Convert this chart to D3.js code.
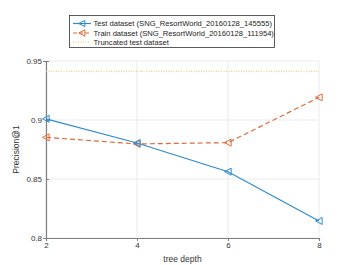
<!DOCTYPE html>
<html><head><meta charset="utf-8">
<script src="https://cdn.jsdelivr.net/npm/d3@7"></script>
<style>body{margin:0;background:#fff}svg{display:block}text{font-family:"Liberation Sans",Arial,sans-serif}</style>
</head><body><svg id="c" width="353" height="265"></svg>
<script>
const depths = [2, 4, 6, 8];
const testValues = [0.901, 0.8805, 0.8562, 0.8144];
const trainValues = [0.8853, 0.8797, 0.8808, 0.9192];
const truncatedValue = 0.9413;
const xTicks = [2, 4, 6, 8];
const yTicks = [0.8, 0.85, 0.9, 0.95];
const seriesNames = ["Test dataset (SNG_ResortWorld_20160128_145555)", "Train dataset (SNG_ResortWorld_20160128_111954)", "Truncated test dataset"];

const svg = d3.select("#c");
const x = d3.scaleLinear().domain([2, 8]).range([46, 319]);
const y = d3.scaleLinear().domain([0.8, 0.95]).range([238, 61]);
const blue = "#2f8ad0", orange = "#e06a3a", yellow = "#e8c060";

// grid
svg.append("g").selectAll("line").data(xTicks).join("line")
  .attr("x1", d => x(d)).attr("x2", d => x(d)).attr("y1", y(0.8)).attr("y2", y(0.95))
  .attr("stroke", "#e6e6e6").attr("stroke-width", 0.8);
svg.append("g").selectAll("line").data(yTicks).join("line")
  .attr("x1", x(2)).attr("x2", x(8)).attr("y1", d => y(d)).attr("y2", d => y(d))
  .attr("stroke", "#e6e6e6").attr("stroke-width", 0.8);

// axes
const xa = svg.append("g").attr("transform", `translate(0,${y(0.8)})`)
  .call(d3.axisBottom(x).tickValues(xTicks).tickSize(3).tickFormat(d3.format("d")));
const ya = svg.append("g").attr("transform", `translate(${x(2)},0)`)
  .call(d3.axisLeft(y).tickValues(yTicks).tickSize(3).tickFormat(d => d3.format("")(+d.toFixed(2))));
[xa, ya].forEach(a => {
  a.select(".domain").attr("stroke", "#808080").attr("stroke-width", 1.2);
  a.selectAll(".tick line").attr("stroke", "#808080");
  a.selectAll("text").attr("fill", "#333").style("font-size", "8px").style("font-family", '"Liberation Sans",Arial,sans-serif');
});
xa.selectAll("text").attr("dy", "0.9em").attr("y", 3);
ya.selectAll(".tick line").attr("x2", 3);
ya.selectAll("text").attr("x", -4);

// labels
svg.append("text").attr("x", x(5)).attr("y", 262).attr("text-anchor", "middle")
  .style("font-size", "8.5px").attr("fill", "#333").text("tree depth");
svg.append("text").attr("transform", `translate(19,${y(0.875)}) rotate(-90)`).attr("text-anchor", "middle")
  .style("font-size", "8.5px").attr("fill", "#333").text("Precision@1");

// truncated line
svg.append("line").attr("x1", x(2)).attr("x2", x(8)).attr("y1", y(truncatedValue)).attr("y2", y(truncatedValue))
  .attr("stroke", yellow).attr("stroke-width", 1).attr("stroke-dasharray", "1,1.5");

const line = d3.line().x(d => x(d[0])).y(d => y(d[1]));
function tri(cx, cy, s) { return `M${cx - s},${cy}L${cx + s * 0.9},${cy - s}L${cx + s * 0.9},${cy + s}Z`; }
function drawSeries(vals, color, dash) {
  const pts = depths.map((d, i) => [d, vals[i]]);
  svg.append("path").datum(pts).attr("d", line).attr("fill", "none").attr("stroke", color)
    .attr("stroke-width", 1.2).attr("stroke-dasharray", dash);
  svg.append("g").selectAll("path").data(pts).join("path")
    .attr("d", d => tri(x(d[0]), y(d[1]), 3.5)).attr("fill", "none").attr("stroke", color).attr("stroke-width", 1);
}
drawSeries(trainValues, orange, "5,3");
drawSeries(testValues, blue, null);

// legend
const lg = svg.append("g");
lg.append("rect").attr("x", 69.5).attr("y", 15.5).attr("width", 205).attr("height", 32)
  .attr("fill", "#fff").attr("stroke", "#333").attr("stroke-width", 0.8);
const rows = [
  {name: seriesNames[0], color: blue, dash: null, marker: true, ly: 23.5},
  {name: seriesNames[1], color: orange, dash: "4,2", marker: true, ly: 33},
  {name: seriesNames[2], color: yellow, dash: "1,1.5", marker: false, ly: 42}
];
rows.forEach(r => {
  lg.append("line").attr("x1", 73).attr("x2", 91).attr("y1", r.ly).attr("y2", r.ly)
    .attr("stroke", r.color).attr("stroke-width", r.marker ? 1.2 : 1).attr("stroke-dasharray", r.dash);
  if (r.marker) lg.append("path").attr("d", tri(82, r.ly, 3.2)).attr("fill", "none").attr("stroke", r.color);
  lg.append("text").attr("x", 93.5).attr("y", r.ly + 2.7).style("font-size", "7.6px").attr("fill", "#222").text(r.name);
});
</script></body></html>
